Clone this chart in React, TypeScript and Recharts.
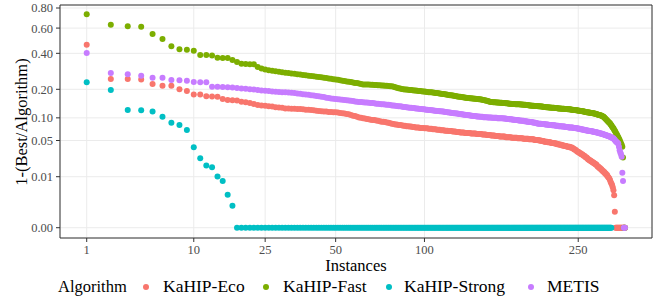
import React from "react";
import {
  ScatterChart,
  Scatter,
  XAxis,
  YAxis,
  CartesianGrid,
  ReferenceArea,
} from "recharts";

// 1-(Best/Algorithm) per instance, sorted descending (instance 1..315)
const kahipEco = [
  0.462, 0.248, 0.248, 0.246, 0.224, 0.216, 0.216, 0.200, 0.193, 0.178,
  0.178, 0.171, 0.170, 0.169, 0.161, 0.157, 0.156, 0.155, 0.151, 0.149,
  0.146, 0.143, 0.139, 0.138, 0.137, 0.135, 0.134, 0.132, 0.131, 0.130,
  0.128, 0.128, 0.127, 0.127, 0.126, 0.126, 0.125, 0.124, 0.124, 0.123,
  0.122, 0.121, 0.120, 0.119, 0.118, 0.118, 0.117, 0.117, 0.116, 0.116,
  0.115, 0.114, 0.113, 0.112, 0.111, 0.110, 0.108, 0.106, 0.105, 0.103,
  0.101, 0.100, 0.099, 0.098, 0.097, 0.096, 0.095, 0.094, 0.094, 0.093,
  0.092, 0.091, 0.090, 0.090, 0.089, 0.088, 0.087, 0.086, 0.085, 0.084,
  0.083, 0.083, 0.082, 0.082, 0.081, 0.080, 0.080, 0.079, 0.079, 0.078,
  0.078, 0.077, 0.077, 0.076, 0.076, 0.076, 0.075, 0.075, 0.075, 0.074,
  0.074, 0.074, 0.073, 0.073, 0.073, 0.072, 0.072, 0.072, 0.071, 0.071,
  0.071, 0.070, 0.070, 0.070, 0.069, 0.069, 0.069, 0.068, 0.068, 0.068,
  0.067, 0.067, 0.067, 0.066, 0.066, 0.066, 0.065, 0.065, 0.065, 0.065,
  0.064, 0.064, 0.064, 0.064, 0.064, 0.063, 0.063, 0.063, 0.063, 0.063,
  0.062, 0.062, 0.062, 0.062, 0.062, 0.061, 0.061, 0.061, 0.061, 0.060,
  0.060, 0.060, 0.060, 0.059, 0.059, 0.059, 0.059, 0.058, 0.058, 0.058,
  0.058, 0.057, 0.057, 0.057, 0.057, 0.057, 0.057, 0.056, 0.056, 0.056,
  0.056, 0.056, 0.056, 0.055, 0.055, 0.055, 0.055, 0.055, 0.055, 0.054,
  0.054, 0.054, 0.054, 0.054, 0.054, 0.053, 0.053, 0.053, 0.053, 0.053,
  0.053, 0.052, 0.052, 0.052, 0.052, 0.052, 0.052, 0.051, 0.051, 0.051,
  0.051, 0.051, 0.050, 0.050, 0.050, 0.049, 0.049, 0.049, 0.048, 0.048,
  0.048, 0.048, 0.047, 0.047, 0.047, 0.047, 0.046, 0.046, 0.046, 0.046,
  0.045, 0.045, 0.045, 0.044, 0.044, 0.044, 0.043, 0.043, 0.043, 0.042,
  0.042, 0.042, 0.041, 0.041, 0.041, 0.040, 0.040, 0.040, 0.040, 0.039,
  0.039, 0.039, 0.038, 0.037, 0.036, 0.036, 0.035, 0.034, 0.033, 0.033,
  0.032, 0.031, 0.031, 0.030, 0.030, 0.029, 0.028, 0.028, 0.027, 0.026,
  0.026, 0.025, 0.024, 0.024, 0.023, 0.023, 0.022, 0.022, 0.021, 0.021,
  0.020, 0.020, 0.019, 0.019, 0.018, 0.017, 0.017, 0.016, 0.016, 0.015,
  0.015, 0.014, 0.014, 0.013, 0.013, 0.012, 0.012, 0.011, 0.011, 0.010,
  0.0095, 0.009, 0.0082, 0.0072, 0.0065, 0.0059, 0.005, 0.004, 0.0026, 0.0003,
  0, 0, 0, 0, 0, 0, 0, 0, 0, 0, 0, 0, 0, 0, 0,
];

const kahipFast = [
  0.733, 0.631, 0.616, 0.612, 0.548, 0.507, 0.450, 0.428, 0.425, 0.418,
  0.388, 0.388, 0.385, 0.370, 0.368, 0.368, 0.356, 0.343, 0.333, 0.331,
  0.330, 0.329, 0.313, 0.305, 0.299, 0.295, 0.292, 0.289, 0.286, 0.283,
  0.281, 0.279, 0.277, 0.275, 0.273, 0.271, 0.269, 0.267, 0.265, 0.263,
  0.262, 0.260, 0.258, 0.257, 0.255, 0.253, 0.251, 0.249, 0.247, 0.245,
  0.244, 0.242, 0.240, 0.238, 0.236, 0.235, 0.233, 0.231, 0.229, 0.228,
  0.226, 0.224, 0.222, 0.222, 0.221, 0.221, 0.220, 0.220, 0.219, 0.219,
  0.218, 0.218, 0.217, 0.217, 0.216, 0.216, 0.215, 0.214, 0.213, 0.211,
  0.209, 0.207, 0.205, 0.203, 0.201, 0.200, 0.199, 0.199, 0.198, 0.197,
  0.197, 0.196, 0.195, 0.195, 0.194, 0.193, 0.193, 0.192, 0.191, 0.191,
  0.190, 0.189, 0.188, 0.188, 0.187, 0.186, 0.185, 0.184, 0.184, 0.183,
  0.182, 0.181, 0.180, 0.180, 0.179, 0.178, 0.177, 0.176, 0.175, 0.175,
  0.174, 0.173, 0.172, 0.171, 0.170, 0.169, 0.169, 0.168, 0.167, 0.167,
  0.166, 0.166, 0.165, 0.165, 0.164, 0.164, 0.163, 0.163, 0.162, 0.162,
  0.161, 0.161, 0.160, 0.160, 0.159, 0.158, 0.157, 0.156, 0.155, 0.154,
  0.153, 0.152, 0.151, 0.150, 0.150, 0.149, 0.149, 0.149, 0.148, 0.148,
  0.148, 0.147, 0.147, 0.147, 0.146, 0.146, 0.146, 0.145, 0.145, 0.145,
  0.144, 0.144, 0.144, 0.143, 0.143, 0.143, 0.143, 0.142, 0.142, 0.142,
  0.142, 0.142, 0.141, 0.141, 0.141, 0.140, 0.140, 0.140, 0.139, 0.139,
  0.139, 0.138, 0.138, 0.138, 0.137, 0.137, 0.137, 0.136, 0.136, 0.136,
  0.136, 0.135, 0.135, 0.135, 0.134, 0.134, 0.134, 0.133, 0.133, 0.133,
  0.132, 0.132, 0.132, 0.131, 0.131, 0.131, 0.130, 0.130, 0.130, 0.130,
  0.129, 0.129, 0.129, 0.129, 0.128, 0.128, 0.128, 0.128, 0.127, 0.127,
  0.127, 0.127, 0.126, 0.126, 0.126, 0.126, 0.125, 0.125, 0.125, 0.125,
  0.124, 0.124, 0.124, 0.123, 0.123, 0.123, 0.122, 0.122, 0.122, 0.121,
  0.121, 0.121, 0.120, 0.120, 0.119, 0.119, 0.118, 0.118, 0.117, 0.117,
  0.116, 0.116, 0.115, 0.115, 0.115, 0.114, 0.114, 0.114, 0.113, 0.113,
  0.112, 0.112, 0.111, 0.111, 0.110, 0.109, 0.109, 0.108, 0.107, 0.107,
  0.106, 0.105, 0.104, 0.103, 0.101, 0.099, 0.097, 0.095, 0.093, 0.091,
  0.089, 0.087, 0.086, 0.083, 0.081, 0.078, 0.076, 0.074, 0.071, 0.069,
  0.066, 0.063, 0.061, 0.058, 0.056, 0.053, 0.051, 0.048, 0.045, 0.043,
  0.040, 0.026, 0, 0, 0,
];

const kahipStrong = [
  0.232, 0.197, 0.123, 0.122, 0.118, 0.103, 0.0875, 0.0817, 0.0703, 0.0392,
  0.0254, 0.0181, 0.0167, 0.0102, 0.0077, 0.0027, 0.0008, 0, 0, 0,
  0, 0, 0, 0, 0, 0, 0, 0, 0, 0, 0, 0, 0, 0, 0, 0, 0, 0, 0, 0,
  0, 0, 0, 0, 0, 0, 0, 0, 0, 0, 0, 0, 0, 0, 0, 0, 0, 0, 0, 0,
  0, 0, 0, 0, 0, 0, 0, 0, 0, 0, 0, 0, 0, 0, 0, 0, 0, 0, 0, 0,
  0, 0, 0, 0, 0, 0, 0, 0, 0, 0, 0, 0, 0, 0, 0, 0, 0, 0, 0, 0,
  0, 0, 0, 0, 0, 0, 0, 0, 0, 0, 0, 0, 0, 0, 0, 0, 0, 0, 0, 0,
  0, 0, 0, 0, 0, 0, 0, 0, 0, 0, 0, 0, 0, 0, 0, 0, 0, 0, 0, 0,
  0, 0, 0, 0, 0, 0, 0, 0, 0, 0, 0, 0, 0, 0, 0, 0, 0, 0, 0, 0,
  0, 0, 0, 0, 0, 0, 0, 0, 0, 0, 0, 0, 0, 0, 0, 0, 0, 0, 0, 0,
  0, 0, 0, 0, 0, 0, 0, 0, 0, 0, 0, 0, 0, 0, 0, 0, 0, 0, 0, 0,
  0, 0, 0, 0, 0, 0, 0, 0, 0, 0, 0, 0, 0, 0, 0, 0, 0, 0, 0, 0,
  0, 0, 0, 0, 0, 0, 0, 0, 0, 0, 0, 0, 0, 0, 0, 0, 0, 0, 0, 0,
  0, 0, 0, 0, 0, 0, 0, 0, 0, 0, 0, 0, 0, 0, 0, 0, 0, 0, 0, 0,
  0, 0, 0, 0, 0, 0, 0, 0, 0, 0, 0, 0, 0, 0, 0, 0, 0, 0, 0, 0,
  0, 0, 0, 0, 0, 0, 0, 0, 0, 0, 0, 0, 0, 0, 0,
];

const metis = [
  0.402, 0.279, 0.272, 0.265, 0.255, 0.254, 0.243, 0.242, 0.240, 0.233,
  0.232, 0.232, 0.211, 0.211, 0.210, 0.209, 0.208, 0.206, 0.204, 0.202,
  0.200, 0.199, 0.197, 0.195, 0.194, 0.193, 0.191, 0.190, 0.189, 0.188,
  0.187, 0.186, 0.185, 0.184, 0.182, 0.181, 0.179, 0.178, 0.177, 0.175,
  0.174, 0.172, 0.171, 0.169, 0.168, 0.166, 0.165, 0.163, 0.162, 0.161,
  0.160, 0.159, 0.158, 0.157, 0.156, 0.155, 0.154, 0.153, 0.152, 0.151,
  0.150, 0.150, 0.149, 0.148, 0.148, 0.147, 0.146, 0.146, 0.145, 0.144,
  0.144, 0.143, 0.142, 0.142, 0.141, 0.140, 0.140, 0.139, 0.138, 0.138,
  0.137, 0.136, 0.135, 0.135, 0.134, 0.133, 0.133, 0.132, 0.131, 0.130,
  0.130, 0.129, 0.129, 0.128, 0.128, 0.127, 0.126, 0.126, 0.125, 0.125,
  0.124, 0.124, 0.123, 0.123, 0.122, 0.122, 0.121, 0.121, 0.120, 0.120,
  0.119, 0.119, 0.118, 0.118, 0.117, 0.117, 0.116, 0.115, 0.115, 0.114,
  0.114, 0.113, 0.113, 0.112, 0.112, 0.111, 0.111, 0.110, 0.110, 0.109,
  0.109, 0.108, 0.108, 0.107, 0.107, 0.106, 0.106, 0.105, 0.105, 0.105,
  0.104, 0.104, 0.104, 0.103, 0.103, 0.103, 0.102, 0.102, 0.102, 0.102,
  0.101, 0.101, 0.101, 0.101, 0.100, 0.100, 0.100, 0.100, 0.100, 0.099,
  0.099, 0.099, 0.099, 0.099, 0.099, 0.098, 0.098, 0.098, 0.097, 0.097,
  0.097, 0.096, 0.096, 0.096, 0.095, 0.095, 0.095, 0.094, 0.094, 0.094,
  0.093, 0.093, 0.093, 0.092, 0.092, 0.092, 0.091, 0.091, 0.091, 0.090,
  0.090, 0.090, 0.089, 0.089, 0.089, 0.088, 0.088, 0.087, 0.087, 0.086,
  0.086, 0.085, 0.085, 0.085, 0.085, 0.084, 0.084, 0.084, 0.084, 0.083,
  0.083, 0.083, 0.083, 0.082, 0.082, 0.082, 0.082, 0.081, 0.081, 0.081,
  0.081, 0.080, 0.080, 0.080, 0.080, 0.079, 0.079, 0.079, 0.079, 0.078,
  0.078, 0.078, 0.078, 0.077, 0.077, 0.077, 0.077, 0.076, 0.076, 0.076,
  0.076, 0.076, 0.076, 0.075, 0.075, 0.075, 0.074, 0.074, 0.074, 0.073,
  0.073, 0.073, 0.072, 0.072, 0.072, 0.071, 0.071, 0.071, 0.070, 0.070,
  0.070, 0.069, 0.069, 0.069, 0.068, 0.068, 0.068, 0.067, 0.067, 0.067,
  0.066, 0.066, 0.066, 0.065, 0.065, 0.065, 0.064, 0.064, 0.063, 0.063,
  0.063, 0.062, 0.062, 0.061, 0.061, 0.060, 0.060, 0.059, 0.059, 0.058,
  0.058, 0.057, 0.057, 0.056, 0.056, 0.055, 0.054, 0.054, 0.052, 0.051,
  0.049, 0.048, 0.047, 0.046, 0.045, 0.040, 0.035, 0.032, 0.030, 0.027,
  0.0126, 0.0077, 0, 0, 0,
];

const X_TICKS = [1, 10, 25, 50, 100, 250];
const Y_TICKS = [0, 0.01, 0.05, 0.1, 0.2, 0.4, 0.6, 0.8];

const SERIES = [
  { name: "KaHIP-Eco", values: kahipEco, color: "#F8766D" },
  { name: "KaHIP-Fast", values: kahipFast, color: "#7CAE00" },
  { name: "KaHIP-Strong", values: kahipStrong, color: "#00BFC4" },
  { name: "METIS", values: metis, color: "#C77CFF" },
];

// both axes use a cube-root transform
const fwd = (v: number) => Math.cbrt(v);
const inv = (v: number) => v * v * v;

const X_DOMAIN = [0.712, 7.095];
const Y_DOMAIN = [-0.0435, 0.941];

const FONT = '"Liberation Serif"';

const LEGEND_POS = [
  { dot: 146, text: 163 },
  { dot: 266, text: 283 },
  { dot: 389, text: 404 },
  { dot: 531, text: 547 },
];

const dot = (color: string) => (p: any) => (
  <circle cx={p.cx} cy={p.cy} r={3} fill={color} />
);

export default function App() {
  return (
    <div
      style={{
        position: "absolute",
        left: 0,
        top: 0,
        width: 655,
        height: 299,
        background: "white",
        fontFamily: FONT,
      }}
    >
      <ScatterChart
        width={655}
        height={299}
        margin={{ top: 5, right: 3, left: 0, bottom: 0 }}
      >
        <CartesianGrid stroke="#ebebeb" strokeWidth={1} />
        <XAxis
          type="number"
          dataKey="x"
          domain={X_DOMAIN}
          allowDataOverflow
          ticks={X_TICKS.map(fwd)}
          interval={0}
          tickFormatter={(v: number) => String(Math.round(inv(v)))}
          height={61}
          axisLine={false}
          tickSize={4}
          tickMargin={3}
          tickLine={{ stroke: "#333333" }}
          tick={{ fill: "#4d4d4d", fontSize: 12.5, fontFamily: "Liberation Serif" }}
        />
        <YAxis
          type="number"
          dataKey="y"
          domain={Y_DOMAIN}
          allowDataOverflow
          ticks={Y_TICKS.map(fwd)}
          interval={0}
          tickFormatter={(v: number) => inv(v).toFixed(2)}
          width={60}
          axisLine={false}
          tickSize={4}
          tickMargin={3}
          tickLine={{ stroke: "#333333" }}
          tick={{ fill: "#4d4d4d", fontSize: 12.5, fontFamily: "Liberation Serif" }}
        />
        {SERIES.map((s) => (
          <Scatter
            key={s.name}
            name={s.name}
            data={s.values.map((v, i) => ({ x: fwd(i + 1), y: fwd(v) }))}
            fill={s.color}
            shape={dot(s.color)}
            isAnimationActive={false}
          />
        ))}
        <ReferenceArea
          x1={X_DOMAIN[0]}
          x2={X_DOMAIN[1]}
          y1={Y_DOMAIN[0]}
          y2={Y_DOMAIN[1]}
          fill="none"
          stroke="#333333"
          strokeWidth={1}
          ifOverflow="visible"
        />
      </ScatterChart>

      <div
        style={{
          position: "absolute",
          left: 21.5,
          top: 121.5,
          transform: "translate(-50%, -50%) rotate(-90deg)",
          whiteSpace: "nowrap",
          fontSize: 16.5,
          lineHeight: 1,
          color: "#000",
        }}
      >
        1-(Best/Algorithm)
      </div>

      <div
        style={{
          position: "absolute",
          left: 356,
          top: 266,
          transform: "translate(-50%, -50%)",
          whiteSpace: "nowrap",
          fontSize: 16.5,
          lineHeight: 1,
          color: "#000",
        }}
      >
        Instances
      </div>

      <div
        style={{
          position: "absolute",
          left: 58,
          top: 287,
          transform: "translateY(-50%)",
          fontSize: 16.5,
          lineHeight: 1,
          whiteSpace: "nowrap",
        }}
      >
        Algorithm
      </div>
      {SERIES.map((s, i) => (
        <React.Fragment key={s.name}>
          <div
            style={{
              position: "absolute",
              left: LEGEND_POS[i].dot - 3,
              top: 284,
              width: 6,
              height: 6,
              borderRadius: "50%",
              background: s.color,
            }}
          />
          <div
            style={{
              position: "absolute",
              left: LEGEND_POS[i].text,
              top: 287,
              transform: "translateY(-50%)",
              fontSize: 17.5,
              lineHeight: 1,
              whiteSpace: "nowrap",
            }}
          >
            {s.name}
          </div>
        </React.Fragment>
      ))}
    </div>
  );
}
